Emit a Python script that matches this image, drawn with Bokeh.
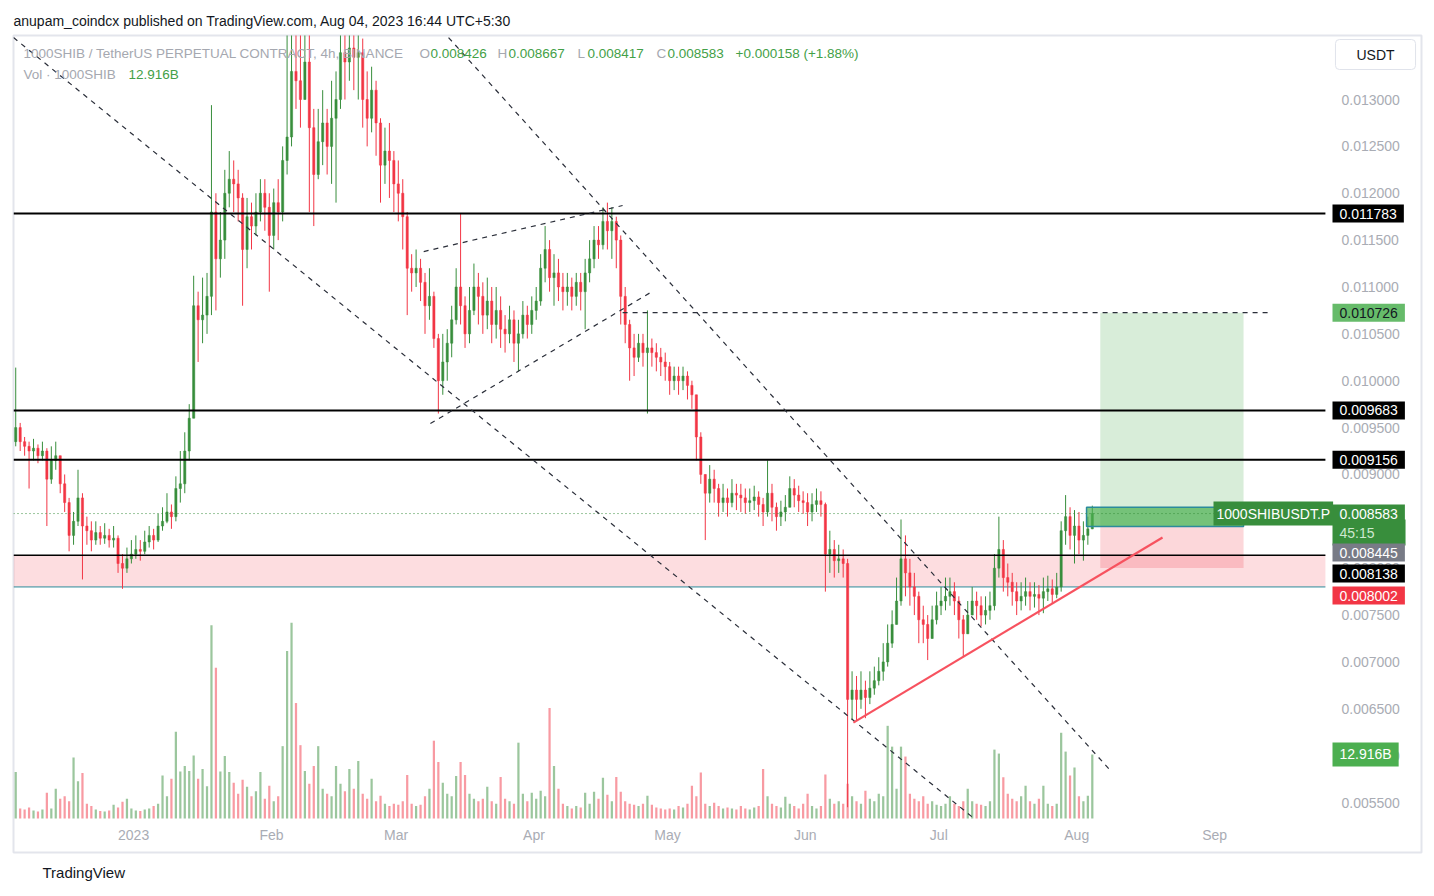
import numpy as np
import pandas as pd
from bokeh.plotting import figure
from bokeh.models import (ColumnDataSource, Range1d, Label, Title,
                          FixedTicker, NumeralTickFormatter, CustomJSTickFormatter)
from bokeh.embed import file_html
from bokeh.resources import INLINE

# ---------------- data (daily candles) ----------------
first_day = "2022-12-05"
first_open = 0.00935
close = [
    0.00950, 0.00935, 0.00930, 0.00925, 0.00928, 0.00920, 0.00925, 0.00895, 0.00915, 0.00920,
    0.00890, 0.00870, 0.00835, 0.00850, 0.00875, 0.00845, 0.00840, 0.00830, 0.00838, 0.00832,
    0.00835, 0.00830, 0.00832, 0.00805, 0.00800, 0.00810, 0.00815, 0.00820, 0.00818, 0.00828,
    0.00835, 0.00830, 0.00845, 0.00850, 0.00860, 0.00855, 0.00885, 0.00890, 0.00925, 0.00960,
    0.01080, 0.01065, 0.01070, 0.01090, 0.01180, 0.01130, 0.01150, 0.01200, 0.01215, 0.01210,
    0.01195, 0.01140, 0.01175, 0.01165, 0.01180, 0.01200, 0.01185, 0.01155, 0.01190, 0.01180,
    0.01235, 0.01260, 0.01330, 0.01320, 0.01300, 0.01340, 0.01270, 0.01220, 0.01255, 0.01275,
    0.01250, 0.01280, 0.01300, 0.01350, 0.01340, 0.01355, 0.01345, 0.01350, 0.01300, 0.01280,
    0.01310, 0.01275, 0.01230, 0.01245, 0.01235, 0.01210, 0.01200, 0.01175, 0.01120, 0.01115,
    0.01120, 0.01105, 0.01080, 0.01090, 0.01045, 0.01000, 0.01020, 0.01040, 0.01065, 0.01100,
    0.01080, 0.01050, 0.01075, 0.01100, 0.01090, 0.01070, 0.01085, 0.01060, 0.01075, 0.01055,
    0.01050, 0.01065, 0.01040, 0.01050, 0.01070, 0.01060, 0.01075, 0.01085, 0.01120, 0.01140,
    0.01110, 0.01115, 0.01100, 0.01095, 0.01100, 0.01090, 0.01105, 0.01095, 0.01115, 0.01130,
    0.01150, 0.01145, 0.01170, 0.01160, 0.01170, 0.01150, 0.01090, 0.01060, 0.01035, 0.01025,
    0.01040, 0.01030, 0.01035, 0.01030, 0.01025, 0.01020, 0.01015, 0.01000, 0.01005, 0.01000,
    0.01005, 0.00995, 0.00985, 0.00940, 0.00900, 0.00880, 0.00895, 0.00885, 0.00870, 0.00875,
    0.00870, 0.00880, 0.00878, 0.00875, 0.00870, 0.00872, 0.00876, 0.00868, 0.00860, 0.00880,
    0.00865, 0.00855, 0.00860, 0.00865, 0.00885, 0.00878, 0.00872, 0.00870, 0.00860, 0.00868,
    0.00872, 0.00868, 0.00815, 0.00820, 0.00808, 0.00810, 0.00805, 0.00660, 0.00670, 0.00660,
    0.00670, 0.00662, 0.00672, 0.00680, 0.00690, 0.00700, 0.00720, 0.00740, 0.00765, 0.00810,
    0.00795, 0.00780, 0.00770, 0.00745, 0.00740, 0.00725, 0.00745, 0.00760, 0.00765, 0.00770,
    0.00775, 0.00765, 0.00745, 0.00730, 0.00750, 0.00765, 0.00760, 0.00750, 0.00755, 0.00760,
    0.00800, 0.00820, 0.00790, 0.00785, 0.00775, 0.00765, 0.00770, 0.00775, 0.00770, 0.00772,
    0.00768, 0.00775, 0.00778, 0.00772, 0.00780, 0.00840, 0.00855, 0.00835, 0.00845, 0.00830,
    0.00835, 0.00842, 0.008583,
]
high = [
    0.01014, 0.00955, 0.00940, 0.00935, 0.00938, 0.00932, 0.00935, 0.00928, 0.00930, 0.00935,
    0.00920, 0.00900, 0.00875, 0.00860, 0.00905, 0.00880, 0.00855, 0.00850, 0.00850, 0.00845,
    0.00848, 0.00842, 0.00845, 0.00835, 0.00815, 0.00822, 0.00830, 0.00835, 0.00830, 0.00840,
    0.00845, 0.00842, 0.00858, 0.00865, 0.00880, 0.00868, 0.00898, 0.00925, 0.00945, 0.00975,
    0.01112, 0.01095, 0.01110, 0.01115, 0.01294, 0.01200, 0.01180, 0.01225, 0.01245, 0.01235,
    0.01225, 0.01200, 0.01195, 0.01190, 0.01200, 0.01215, 0.01215, 0.01200, 0.01205, 0.01215,
    0.01250, 0.01400, 0.01420, 0.01380, 0.01370, 0.01400, 0.01370, 0.01290, 0.01290, 0.01310,
    0.01290, 0.01320, 0.01330, 0.01390, 0.01390, 0.01410, 0.01400, 0.01420, 0.01365, 0.01330,
    0.01335, 0.01320, 0.01280, 0.01270, 0.01275, 0.01245, 0.01235, 0.01215, 0.01180, 0.01135,
    0.01140, 0.01130, 0.01115, 0.01120, 0.01095, 0.01050, 0.01050, 0.01055, 0.01080, 0.01120,
    0.01178, 0.01090, 0.01100, 0.01125, 0.01115, 0.01105, 0.01110, 0.01100, 0.01100, 0.01090,
    0.01070, 0.01080, 0.01075, 0.01065, 0.01085, 0.01080, 0.01090, 0.01100, 0.01135, 0.01165,
    0.01150, 0.01135, 0.01130, 0.01115, 0.01115, 0.01110, 0.01115, 0.01115, 0.01130, 0.01150,
    0.01165, 0.01165, 0.01185, 0.01190, 0.01185, 0.01175, 0.01155, 0.01100, 0.01065, 0.01050,
    0.01050, 0.01050, 0.01075, 0.01045, 0.01040, 0.01035, 0.01030, 0.01020, 0.01015, 0.01015,
    0.01015, 0.01010, 0.01000, 0.00985, 0.00945, 0.00900, 0.00910, 0.00905, 0.00890, 0.00890,
    0.00885, 0.00895, 0.00890, 0.00890, 0.00885, 0.00885, 0.00888, 0.00882, 0.00875, 0.00915,
    0.00890, 0.00870, 0.00872, 0.00878, 0.00898, 0.00895, 0.00888, 0.00882, 0.00880, 0.00880,
    0.00885, 0.00882, 0.00870, 0.00840, 0.00830, 0.00825, 0.00820, 0.00810, 0.00690, 0.00685,
    0.00690, 0.00680, 0.00690, 0.00695, 0.00705, 0.00720, 0.00740, 0.00755, 0.00790, 0.00852,
    0.00835, 0.00810, 0.00795, 0.00775, 0.00760, 0.00750, 0.00760, 0.00775, 0.00780, 0.00790,
    0.00790, 0.00785, 0.00770, 0.00750, 0.00765, 0.00780, 0.00775, 0.00770, 0.00770, 0.00775,
    0.00815, 0.00855, 0.00830, 0.00805, 0.00795, 0.00785, 0.00785, 0.00790, 0.00785, 0.00785,
    0.00782, 0.00790, 0.00792, 0.00788, 0.00795, 0.00850, 0.00878, 0.00865, 0.00862, 0.00860,
    0.00850, 0.00855, 0.008667,
]
low = [
    0.00930, 0.00925, 0.00920, 0.00885, 0.00915, 0.00912, 0.00915, 0.00845, 0.00890, 0.00905,
    0.00880, 0.00860, 0.00818, 0.00825, 0.00845, 0.00788, 0.00825, 0.00818, 0.00825, 0.00825,
    0.00826, 0.00822, 0.00822, 0.00795, 0.00778, 0.00795, 0.00805, 0.00810, 0.00808, 0.00815,
    0.00822, 0.00820, 0.00828, 0.00840, 0.00848, 0.00842, 0.00850, 0.00870, 0.00880, 0.00915,
    0.00960, 0.01020, 0.01040, 0.01050, 0.01070, 0.01075, 0.01110, 0.01130, 0.01185, 0.01180,
    0.01170, 0.01080, 0.01120, 0.01140, 0.01155, 0.01170, 0.01160, 0.01095, 0.01140, 0.01150,
    0.01170, 0.01220, 0.01250, 0.01290, 0.01270, 0.01300, 0.01180, 0.01165, 0.01215, 0.01230,
    0.01220, 0.01210, 0.01190, 0.01290, 0.01300, 0.01320, 0.01310, 0.01300, 0.01270, 0.01250,
    0.01265, 0.01240, 0.01190, 0.01210, 0.01195, 0.01180, 0.01170, 0.01140, 0.01070, 0.01095,
    0.01100, 0.01085, 0.01050, 0.01065, 0.01035, 0.00965, 0.00985, 0.01000, 0.01025, 0.01060,
    0.01060, 0.01035, 0.01040, 0.01070, 0.01060, 0.01050, 0.01055, 0.01040, 0.01045, 0.01035,
    0.01030, 0.01040, 0.01020, 0.01010, 0.01045, 0.01045, 0.01050, 0.01065, 0.01080, 0.01105,
    0.01095, 0.01080, 0.01085, 0.01075, 0.01080, 0.01075, 0.01080, 0.01075, 0.01055, 0.01105,
    0.01120, 0.01130, 0.01140, 0.01140, 0.01130, 0.01120, 0.01060, 0.01040, 0.01000, 0.01005,
    0.01020, 0.01015, 0.00965, 0.01015, 0.01010, 0.01005, 0.01000, 0.00985, 0.00990, 0.00985,
    0.00990, 0.00980, 0.00970, 0.00915, 0.00890, 0.00830, 0.00870, 0.00870, 0.00855, 0.00860,
    0.00855, 0.00865, 0.00862, 0.00860, 0.00858, 0.00860, 0.00862, 0.00855, 0.00845, 0.00855,
    0.00850, 0.00840, 0.00845, 0.00850, 0.00865, 0.00865, 0.00860, 0.00858, 0.00845, 0.00850,
    0.00860, 0.00855, 0.00775, 0.00795, 0.00790, 0.00795, 0.00790, 0.00545, 0.00638, 0.00638,
    0.00650, 0.00640, 0.00655, 0.00665, 0.00675, 0.00680, 0.00695, 0.00715, 0.00740, 0.00760,
    0.00770, 0.00760, 0.00750, 0.00720, 0.00720, 0.00702, 0.00725, 0.00740, 0.00750, 0.00755,
    0.00760, 0.00750, 0.00725, 0.00705, 0.00730, 0.00750, 0.00745, 0.00738, 0.00740, 0.00745,
    0.00755, 0.00790, 0.00775, 0.00770, 0.00760, 0.00750, 0.00755, 0.00760, 0.00755, 0.00758,
    0.00750, 0.00752, 0.00765, 0.00762, 0.00768, 0.00775, 0.00825, 0.00820, 0.00805, 0.00815,
    0.00808, 0.00825, 0.008417,
]
volume_b = [  # billions
    9.4, 2.0, 1.8, 2.2, 1.6, 1.4, 1.8,
    5.2, 2.0, 6.0, 4.0, 4.5, 3.5, 12.3,
    7.5, 9.2, 3.0, 2.5, 1.8, 1.5, 1.4,
    1.6, 2.8, 2.2, 3.4, 4.0, 2.0, 1.6,
    1.5, 1.8, 2.0, 2.5, 3.0, 8.7, 4.5,
    8.0, 17.5, 9.5, 10.6, 9.6, 12.7, 8.0,
    10.0, 6.5, 39.0, 30.4, 9.5, 12.6, 9.4,
    7.2, 5.0, 7.8, 6.4, 4.5, 5.5, 9.4,
    4.0, 6.6, 3.5, 4.5, 14.6, 33.8, 39.5,
    23.3, 14.8, 9.6, 7.0, 10.6, 14.6, 6.0,
    5.0, 4.5, 10.6, 7.0, 5.5, 10.0, 6.0,
    11.6, 5.0, 4.0, 8.0, 3.5, 4.6, 3.0,
    2.5, 3.0, 2.8, 3.5, 8.8, 3.0, 2.5,
    2.8, 4.5, 6.0, 15.7, 11.4, 7.2, 5.0,
    4.5, 8.6, 11.4, 8.8, 5.0, 4.0, 3.5,
    4.0, 6.4, 3.5, 3.0, 8.4, 4.0, 3.5,
    3.0, 15.3, 5.0, 3.5, 5.2, 4.0, 5.6,
    4.5, 22.3, 10.6, 6.0, 3.0, 2.5, 2.0,
    2.5, 2.2, 5.2, 3.0, 5.4, 4.0, 8.2,
    4.8, 3.5, 8.4, 5.4, 3.5, 3.0, 2.8,
    2.5, 3.0, 4.6, 2.8, 2.2, 2.0, 1.8,
    2.0, 1.8, 2.5, 2.2, 3.0, 6.6, 4.5,
    9.3, 3.0, 2.5, 3.2, 2.5, 2.0, 2.2,
    2.0, 1.8, 2.5, 2.0, 1.8, 2.2, 2.5,
    10.0, 4.5, 3.0, 2.5, 2.2, 4.4, 3.0,
    2.5, 2.0, 3.0, 5.0, 2.5, 2.0, 2.5,
    8.9, 4.0, 3.0, 3.5, 3.0, 7.0, 4.5,
    3.5, 3.0, 5.6, 4.0, 3.5, 5.0, 4.5,
    18.7, 14.5, 6.0, 14.5, 12.5, 5.0, 4.0,
    3.5, 4.5, 3.0, 3.5, 2.8, 2.5, 3.0,
    4.5, 3.0, 2.5, 3.5, 6.0, 3.5, 3.0,
    2.8, 2.5, 3.5, 13.9, 13.1, 8.3, 5.0,
    4.0, 3.5, 4.5, 6.6, 3.5, 3.0, 4.0,
    6.6, 3.0, 2.5, 3.0, 17.3, 13.5, 8.7,
    10.3, 4.5, 3.5, 4.6, 12.916,
]

# horizontal levels drawn on the chart
levels_bold = [0.011783, 0.009683, 0.009156]
support_top = 0.008138
support_bottom = 0.007800
last_price = 0.008583
# long position tool
entry_price = 0.008445
target_price = 0.010726
stop_price = 0.008002
pnl_top = 0.008650
position_start = "2023-08-06 07:00"
position_end = "2023-09-07 12:00"
pnl_start = "2023-08-03 05:00"
# dashed trend lines (start date, start price, end date, end price)
dashed_lines = [
    ("2022-12-05 00:00", 0.013661, "2023-07-09 05:00", 0.005319),
    ("2023-03-12 19:00", 0.013661, "2023-08-08 14:00", 0.005841),
    ("2023-03-07 05:00", 0.011378, "2023-04-20 22:00", 0.011869),
    ("2023-03-08 17:00", 0.009543, "2023-04-27 14:00", 0.010952),
    ("2023-04-20 22:00", 0.010726, "2023-09-14 00:00", 0.010726),
]
red_trend = ("2023-06-11 19:00", 0.006353, "2023-08-20 07:00", 0.008327)

price_ticks = [0.0055, 0.0060, 0.0065, 0.0070, 0.0075, 0.0080, 0.0085, 0.0090,
               0.0095, 0.0100, 0.0105, 0.0110, 0.0115, 0.0120, 0.0125, 0.0130]
month_ticks = ["2023-01-01", "2023-02-01", "2023-03-01", "2023-04-01", "2023-05-01",
               "2023-06-01", "2023-07-01", "2023-08-01", "2023-09-01"]
month_labels = ["2023", "Feb", "Mar", "Apr", "May", "Jun", "Jul", "Aug", "Sep"]

# ---------------- build ----------------
n = min(len(close), len(high), len(low), len(volume_b))
close, high, low, volume_b = close[:n], high[:n], low[:n], volume_b[:n]
opens = [first_open] + close[:-1]
dates = pd.Timestamp(first_day) + pd.to_timedelta(np.arange(n), unit="D") + pd.Timedelta(hours=12)
UP, DOWN = "#388e3c", "#f23645"
colors = [UP if c >= o else DOWN for o, c in zip(opens, close)]
src = ColumnDataSource(dict(
    x=dates, open=opens, close=close, high=high, low=low, vol=volume_b,
    top=[max(o, c) for o, c in zip(opens, close)],
    bottom=[min(o, c) for o, c in zip(opens, close)],
    color=colors,
))

DAY = 86400000
x_start = pd.Timestamp(first_day)
scale_edge = x_start + pd.Timedelta(days=294.9)   # where the price scale begins
x_end = x_start + pd.Timedelta(days=316.5)        # right edge of the chart box

FONT = "Liberation Sans"
GREY = "#a9acb4"

p = figure(width=1430, height=894, x_axis_type="datetime", y_axis_location="right",
           x_range=Range1d(x_start, x_end), y_range=Range1d(0.004967, 0.013683),
           output_backend="svg", toolbar_location=None,
           min_border_left=13, min_border_right=9, min_border_top=35, min_border_bottom=42)
p.extra_y_ranges = {"vol": Range1d(-6.86, 158.0)}
p.outline_line_color = "#e3e5ec"
p.outline_line_width = 2
p.background_fill_color = "white"
p.border_fill_color = "white"
p.xgrid.visible = False
p.ygrid.visible = False

p.title.text = "anupam_coindcx published on TradingView.com, Aug 04, 2023 16:44 UTC+5:30"
p.title.align = "left"
p.title.text_font = FONT
p.title.text_font_size = "14px"
p.title.text_font_style = "normal"
p.title.text_color = "#131722"
p.title.standoff = 14

# axes (labels drawn inside the chart box like TradingView's scales)
yax = p.yaxis[0]
yax.ticker = FixedTicker(ticks=price_ticks)
yax.formatter = NumeralTickFormatter(format="0.000000")
yax.axis_line_color = None
yax.major_tick_line_color = None
yax.minor_tick_line_color = None
yax.major_tick_out = 0
yax.major_label_standoff = -80
yax.major_label_text_color = GREY
yax.major_label_text_font = FONT
yax.major_label_text_font_size = "14px"

tick_ms = [pd.Timestamp(t).value // 10**6 for t in month_ticks]
xax = p.xaxis[0]
xax.ticker = FixedTicker(ticks=tick_ms)
xax.formatter = CustomJSTickFormatter(args=dict(tick_list=tick_ms, label_list=month_labels), code="""
let best = 0;
for (let i = 0; i < tick_list.length; i++) {
  if (Math.abs(tick_list[i] - tick) < Math.abs(tick_list[best] - tick)) best = i;
}
return label_list[best];
""")
xax.axis_line_color = None
xax.major_tick_line_color = None
xax.minor_tick_line_color = None
xax.major_tick_out = 0
xax.major_label_standoff = -26
xax.major_label_text_color = GREY
xax.major_label_text_font = FONT
xax.major_label_text_font_size = "14px"

p.add_layout(Title(text="TradingView", align="left", offset=29, text_font=FONT,
                   text_font_size="15px", text_font_style="normal", text_color="#131722",
                   standoff=18), "below")

# pink support band
p.quad(left=[x_start], right=[scale_edge], top=[support_top], bottom=[support_bottom],
       fill_color="#f23645", fill_alpha=0.17, line_color=None, level="underlay")
p.line(x=[x_start, scale_edge], y=[support_bottom, support_bottom], line_color="#2b8b9b", line_width=1)

# volume
p.vbar(x="x", top="vol", width=0.5 * DAY, source=src, y_range_name="vol",
       fill_color="color", line_color=None, fill_alpha=0.5, level="underlay")

# position tool
pos_l, pos_r, pnl_l = pd.Timestamp(position_start), pd.Timestamp(position_end), pd.Timestamp(pnl_start)
p.quad(left=[pos_l], right=[pos_r], top=[target_price], bottom=[entry_price],
       fill_color="#4caf50", fill_alpha=0.22, line_color=None)
p.quad(left=[pos_l], right=[pos_r], top=[entry_price], bottom=[stop_price],
       fill_color="#f23645", fill_alpha=0.2, line_color=None)

# candles
p.segment(x0="x", y0="low", x1="x", y1="high", source=src, line_color="color", line_width=1)
p.vbar(x="x", top="top", bottom="bottom", width=0.5 * DAY, source=src,
       fill_color="color", line_color="color", line_width=0.5)

p.quad(left=[pnl_l], right=[pos_r], top=[pnl_top], bottom=[entry_price],
       fill_color="#4caf50", fill_alpha=0.7, line_color="#2b8b9b", line_width=1.5)

# levels
for lv in levels_bold:
    p.line(x=[x_start, scale_edge], y=[lv, lv], line_color="#000000", line_width=2)
p.line(x=[x_start, scale_edge], y=[support_top, support_top], line_color="#000000", line_width=1.5)
p.line(x=[x_start, scale_edge], y=[last_price, last_price], line_color="#388e3c",
       line_width=1, line_dash="1 3")

# dashed lines
for (d0, p0, d1, p1) in dashed_lines:
    p.line(x=[pd.Timestamp(d0), pd.Timestamp(d1)], y=[p0, p1], line_color="#2a2e39",
           line_width=1.2, line_dash="5 5")
p.line(x=[pd.Timestamp(red_trend[0]), pd.Timestamp(red_trend[2])], y=[red_trend[1], red_trend[3]],
       line_color="#f7525f", line_width=2.2)

# ---------------- texts (screen units: from the chart box's left / bottom) ----------------


def txt(x, y, text, color="#131722", size="14px", y_units="screen", bg=None, pad=None,
        align="left", style="normal", y_range_name="default", radius=0, border=None, font=FONT):
    kw = {}
    if bg is not None:
        kw["background_fill_color"] = bg
        kw["background_fill_alpha"] = 1.0
    if pad is not None:
        kw["padding"] = pad
    if border is not None:
        kw["border_line_color"] = border
    lab = Label(x=x, y=y, x_units="screen", y_units=y_units, text=text, text_color=color,
                text_font=font, text_font_size=size, text_align=align, text_baseline="middle",
                text_font_style=style, border_radius=radius, y_range_name=y_range_name, **kw)
    p.add_layout(lab)
    return lab


# legend
LG = "#a5a8b0"
GR = "#43a047"
LS = "13.5px"
txt(10, 799, "1000SHIB / TetherUS PERPETUAL CONTRACT, 4h, BINANCE", color=LG, size=LS)
for lx, letter, vx, val in [(406, "O", 417, "0.008426"), (484, "H", 495, "0.008667"),
                            (564, "L", 574, "0.008417"), (643, "C", 654, "0.008583")]:
    txt(lx, 799, letter, color=LG, size=LS)
    txt(vx, 799, val, color=GR, size=LS)
txt(722, 799, "+0.000158 (+1.88%)", color=GR, size=LS)
txt(10, 778, "Vol · 1000SHIB", color=LG, size=LS)
txt(115, 778, "12.916B", color=GR, size=LS)

# price tags on the scale
TX = 1319
PAD = (7, 4)
txt(TX, 0.011783, "0.011783", color="white", y_units="data", bg="#000000", pad=PAD)
txt(TX, 0.010726, "0.010726", color="#131722", y_units="data", bg="#66bb6a", pad=PAD)
txt(TX, 0.009683, "0.009683", color="white", y_units="data", bg="#000000", pad=PAD)
txt(TX, 0.009156, "0.009156", color="white", y_units="data", bg="#000000", pad=PAD)
txt(TX, 320, "45:15", color="#cfe8d0", bg="#388e3c", pad=(7, 31, 5, 5))
txt(TX, last_price, "0.008583", color="white", y_units="data", bg="#388e3c", pad=PAD)
txt(TX, 300, "0.008445", color="white", bg="#787b86", pad=PAD)
txt(TX, 279, "0.008138", color="white", bg="#000000", pad=PAD)
txt(TX, 257, "0.008002", color="white", bg="#f23645", pad=PAD)
txt(TX, 12.916, "12.916B", color="white", y_units="data", y_range_name="vol", bg="#4caf50", pad=PAD)
txt(1200, last_price, "1000SHIBUSDT.P", color="white", y_units="data", bg="#388e3c", pad=(3, 4))
txt(1362, 798, "USDT", color="#131722", bg="white", pad=(21, 7), align="center",
    border="#e0e3eb", radius=4)

open("out.html", "w").write(file_html(p, INLINE))
